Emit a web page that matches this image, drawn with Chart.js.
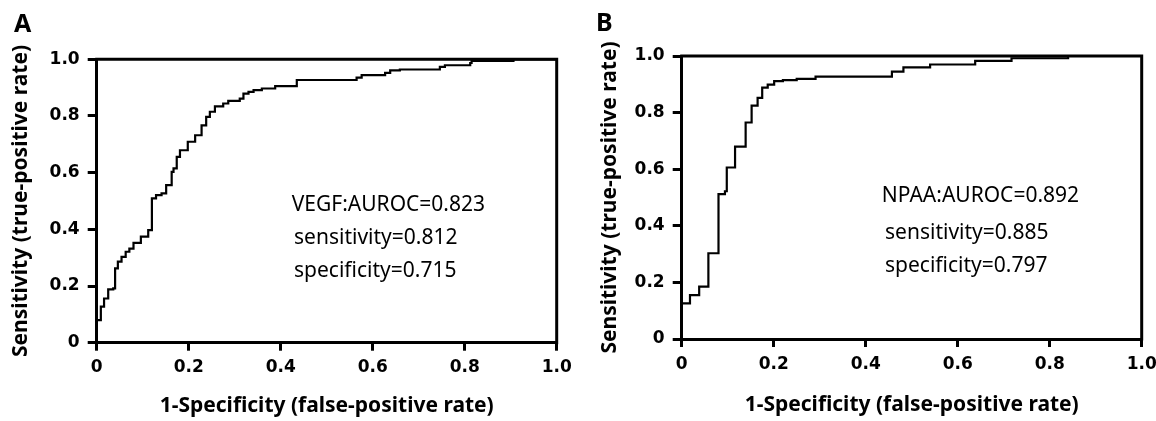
<!DOCTYPE html>
<html>
<head>
<meta charset="utf-8">
<script src="https://cdn.jsdelivr.net/npm/chart.js@4.4.0/dist/chart.umd.min.js"></script>
<style>
  html, body { margin: 0; padding: 0; background: #fff; }
  #wrap { position: relative; width: 1156px; height: 421px; }
  canvas { position: absolute; top: 0; }
  #chart-a { left: 0; }
  #chart-b { left: 580px; }
</style>
</head>
<body>
<div id="wrap">
  <canvas id="chart-a" width="580" height="421"></canvas>
  <canvas id="chart-b" width="576" height="421"></canvas>
</div>
<script>
// ROC corners: at each fpr the curve climbs to that tpr
const fprA = [0, 0, 0.009, 0.016, 0.025, 0.036, 0.040, 0.046, 0.054, 0.063, 0.071, 0.080,
  0.096, 0.112, 0.120, 0.129, 0.141, 0.151, 0.163, 0.167, 0.174, 0.181, 0.198, 0.214,
  0.228, 0.238, 0.246, 0.257, 0.275, 0.286, 0.311, 0.319, 0.330, 0.341, 0.359, 0.388,
  0.435, 0.565, 0.576, 0.627, 0.638, 0.659, 0.746, 0.757, 0.812, 0.815, 0.906, 1.0];
const tprA = [0, 0.080, 0.127, 0.156, 0.188, 0.192, 0.262, 0.286, 0.303, 0.321, 0.332, 0.352,
  0.374, 0.397, 0.509, 0.521, 0.527, 0.556, 0.603, 0.615, 0.656, 0.679, 0.709, 0.732,
  0.767, 0.797, 0.815, 0.834, 0.844, 0.853, 0.861, 0.879, 0.885, 0.891, 0.897, 0.905,
  0.927, 0.935, 0.944, 0.952, 0.961, 0.964, 0.973, 0.979, 0.987, 0.994, 1.0, 1.0];

const fprB = [0, 0, 0.018, 0.038, 0.058, 0.080, 0.094, 0.098, 0.116, 0.139, 0.152, 0.165,
  0.175, 0.187, 0.201, 0.220, 0.250, 0.291, 0.457, 0.482, 0.540, 0.638, 0.717, 0.840, 1.0];
const tprB = [0, 0.126, 0.155, 0.185, 0.303, 0.512, 0.522, 0.606, 0.680, 0.765, 0.825, 0.852,
  0.888, 0.899, 0.911, 0.915, 0.919, 0.927, 0.945, 0.960, 0.970, 0.983, 0.992, 1.0, 1.0];

const tickLabels = ["0", "0.2", "0.4", "0.6", "0.8", "1.0"];
const statsA = ["VEGF:AUROC=0.823", "sensitivity=0.812", "specificity=0.715"];
const statsB = ["NPAA:AUROC=0.892", "sensitivity=0.885", "specificity=0.797"];
const xTitle = "1-Specificity (false-positive rate)";
const yTitle = "Sensitivity (true-positive rate)";

Chart.defaults.color = "#000";
Chart.defaults.font.family = "DejaVu Sans";

function rocChart(canvasId, fpr, tpr, stats, letter, box) {
  const points = fpr.map((x, i) => ({ x: x, y: tpr[i] }));

  // box outline (top + right), panel letter and the AUROC notes
  const extras = {
    id: "extras",
    afterDraw(chart) {
      const { ctx, chartArea: a, scales } = chart;
      ctx.save();
      ctx.strokeStyle = "#000";
      ctx.lineWidth = 3;
      ctx.lineCap = "square";
      ctx.beginPath();
      ctx.moveTo(a.left, a.top);
      ctx.lineTo(a.right, a.top);
      ctx.lineTo(a.right, a.bottom);
      ctx.stroke();

      ctx.fillStyle = "#000";
      ctx.textAlign = "left";
      ctx.textBaseline = "alphabetic";
      ctx.font = 'bold 25px "Noto Sans"';
      ctx.fillText(letter, box.letterX, box.letterY);

      ctx.font = '21px "Noto Sans"';
      stats.forEach((s, i) => {
        ctx.fillText(s, scales.x.getPixelForValue(box.noteX[i]),
          scales.y.getPixelForValue(box.noteY[i]));
      });
      ctx.restore();
    },
  };

  const tickFont = { family: "DejaVu Sans", weight: "bold", size: 17 };
  const titleFont = { family: "Noto Sans", weight: "bold", size: 21 };

  return new Chart(document.getElementById(canvasId).getContext("2d"), {
    type: "line",
    data: {
      datasets: [
        {
          data: points,
          stepped: "before",
          borderColor: "#000",
          borderWidth: 2.2,
          pointRadius: 0,
          fill: false,
        },
      ],
    },
    options: {
      responsive: false,
      animation: false,
      layout: { padding: { top: box.top, right: box.right, left: 0, bottom: 0 } },
      plugins: { legend: { display: false }, tooltip: { enabled: false } },
      scales: {
        x: {
          type: "linear",
          min: 0,
          max: 1,
          ticks: {
            stepSize: 0.2,
            padding: 7,
            font: tickFont,
            maxRotation: 0,
            callback: (v, i) => tickLabels[i],
          },
          grid: { drawOnChartArea: false, tickLength: 8, color: "#000", lineWidth: 3 },
          border: { color: "#000", width: 3 },
          title: { display: true, text: xTitle, font: titleFont, padding: { top: 0, bottom: box.xTitlePad } },
          afterFit: (s) => {
            s.height = box.xHeight;
            s.paddingLeft = 0;
            s.paddingRight = 0;
          },
        },
        y: {
          type: "linear",
          min: 0,
          max: 1,
          ticks: {
            stepSize: 0.2,
            padding: 8,
            font: tickFont,
            callback: (v, i) => tickLabels[i],
          },
          grid: { drawOnChartArea: false, tickLength: 9, color: "#000", lineWidth: 3 },
          border: { color: "#000", width: 3 },
          title: { display: true, text: yTitle, font: titleFont, padding: { top: box.yTitlePad, bottom: 0 } },
          afterFit: (s) => {
            s.width = box.yWidth;
            s.paddingTop = 0;
            s.paddingBottom = 0;
          },
        },
      },
    },
    plugins: [extras],
  });
}

rocChart("chart-a", fprA, tprA, statsA, "A", {
  top: 59.3, right: 23.3, yWidth: 96.7, xHeight: 78.3,
  xTitlePad: 2, yTitlePad: 8,
  letterX: 14, letterY: 32,
  noteX: [0.424, 0.429, 0.429], noteY: [0.465, 0.348, 0.233],
});

rocChart("chart-b", fprB, tprB, statsB, "B", {
  top: 56, right: 14.3, yWidth: 101.7, xHeight: 82,
  xTitlePad: 3.5, yTitlePad: 17,
  letterX: 16, letterY: 31,
  noteX: [0.435, 0.442, 0.442], noteY: [0.485, 0.352, 0.238],
});
</script>
</body>
</html>
